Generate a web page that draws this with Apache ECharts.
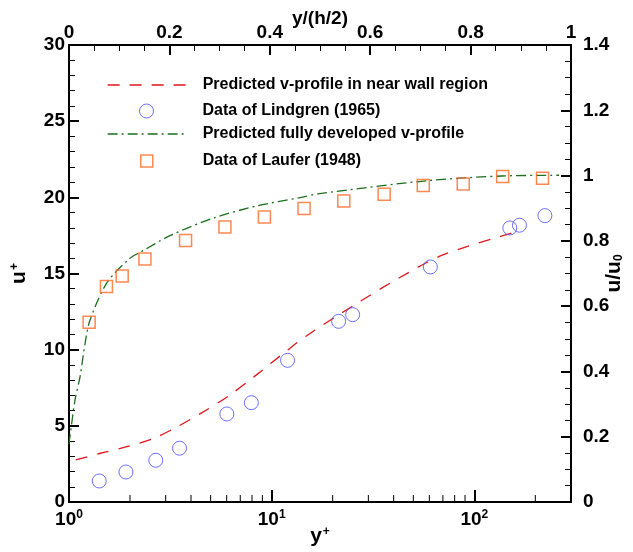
<!DOCTYPE html>
<html>
<head>
<meta charset="utf-8">
<script src="https://cdn.jsdelivr.net/npm/echarts@6/dist/echarts.min.js"></script>
<style>html,body{margin:0;padding:0;background:#fff}#c{width:633px;height:552px}</style>
</head>
<body>
<div id="c"></div>
<script>
// ---- data ----
var nearWallYp = [1.08, 1.43, 1.93, 2.62, 3.42, 4.47, 6.05, 8.2, 12.0, 15.0, 24.8, 42.3, 69.4, 137, 166];
var nearWallUp = [2.76, 3.2, 3.63, 4.18, 4.94, 5.82, 6.91, 8.23, 9.98, 10.95, 12.82, 14.69, 16.2, 17.47, 17.8];

var fullYp = [1.0, 1.011, 1.071, 1.134, 1.2, 1.27, 1.54, 2.0, 2.25, 3.17, 5.2, 8.54, 14.0, 17.3, 59.4, 137, 262];
var fullUp = [3.8, 4.3, 6.7, 8.23, 10.4, 11.95, 14.4, 16.0, 16.4, 17.5, 18.65, 19.45, 20.0, 20.25, 21.1, 21.4, 21.45];

var lindgrenYp = [1.41, 1.91, 2.68, 3.51, 6.01, 7.94, 11.98, 21.4, 25.1, 60.7, 149.7, 167, 223];
var lindgrenUp = [1.38, 1.97, 2.74, 3.53, 5.78, 6.52, 9.30, 11.86, 12.30, 15.43, 17.99, 18.17, 18.80];

var lauferYp = [1.257, 1.53, 1.83, 2.37, 3.76, 5.88, 9.21, 14.45, 22.7, 35.9, 56.0, 88.2, 138, 217];
var lauferUp = [11.8, 14.14, 14.84, 15.96, 17.16, 18.06, 18.71, 19.26, 19.76, 20.2, 20.77, 20.88, 21.36, 21.25];

var logMinorTicks = [2, 3, 4, 5, 6, 7, 8, 9, 20, 30, 40, 50, 60, 70, 80, 90, 200];

var names = [
  'Predicted v-profile in near wall region',
  'Data of Lindgren (1965)',
  'Predicted fully developed v-profile',
  'Data of Laufer (1948)'
];

function pairs(xs, ys) { return xs.map(function (x, i) { return [x, ys[i]]; }); }

var FONT = 'Liberation Sans, Arial, sans-serif';
var RED = '#e0161b', BLUE = '#4a4cff', GREEN = '#1d6e1d', ORANGE = '#ff6a26';

var tickLabel = { fontFamily: FONT, fontWeight: 'bold', fontSize: 19, color: '#000' };

function axisCommon(extra) {
  var base = {
    nameMoveOverlap: false,
    axisLine: { show: true, onZero: false, lineStyle: { color: '#000', width: 2 } },
    axisTick: { show: true, inside: true, length: 10, lineStyle: { color: '#000', width: 2 } },
    minorTick: { show: true, length: 6, lineStyle: { color: '#000', width: 1 } },
    splitLine: { show: false },
    minorSplitLine: { show: false },
    nameTextStyle: { fontFamily: FONT, fontWeight: 'bold', fontSize: 19, color: '#000' }
  };
  for (var k in extra) base[k] = extra[k];
  return base;
}

var chart = echarts.init(document.getElementById('c'), null, { renderer: 'canvas' });

var legendBase = {
  orient: 'vertical', padding: 0, selectedMode: false,
  textStyle: { fontFamily: FONT, fontWeight: 'bold', fontSize: 16, color: '#000' }
};
function mkLegend(name, left, top, w, h, padLeft, itemStyle, lineStyle) {
  var l = JSON.parse(JSON.stringify(legendBase));
  l.left = left; l.top = top; l.itemWidth = w; l.itemHeight = h;
  l.textStyle.padding = [0, 0, 0, padLeft];
  var d = { name: name };
  if (itemStyle) d.itemStyle = itemStyle;
  if (lineStyle) d.lineStyle = lineStyle;
  l.data = [d];
  return l;
}

var option = {
  animation: false,
  backgroundColor: '#fff',
  grid: { left: 69, right: 62, top: 45, bottom: 50, containLabel: false, outerBoundsMode: 'none' },
  legend: [
    mkLegend(names[0], 107, 77, 80, 2, 10, { color: 'rgba(0,0,0,0)', borderWidth: 0 }, { width: 1.3 }),
    mkLegend(names[1], 139, 103, 14, 14, 44, { color: 'rgba(0,0,0,0)', borderColor: BLUE, borderWidth: 1 }),
    mkLegend(names[2], 107, 126, 80, 2, 10, { color: 'rgba(0,0,0,0)', borderWidth: 0 }, { width: 1.3 }),
    mkLegend(names[3], 140, 153, 12, 12, 45, { color: 'rgba(0,0,0,0)', borderColor: ORANGE, borderWidth: 1.5 })
  ],
  xAxis: [
    axisCommon({
      type: 'log', logBase: 10, min: 1, max: 300, position: 'bottom',
      axisTick: { show: true, inside: true, length: 12, lineStyle: { color: '#000', width: 2 } },
      minorTick: { show: false },
      name: 'y{sup|+}', nameLocation: 'middle', nameGap: 24,
      nameTextStyle: {
        fontFamily: FONT, fontWeight: 'bold', fontSize: 21, color: '#000',
        rich: { sup: { fontFamily: FONT, fontWeight: 'bold', fontSize: 12, verticalAlign: 'top', lineHeight: 12, padding: [0, 0, 0, 1] } }
      },
      axisLabel: {
        margin: 7, showMaxLabel: false,
        formatter: function (v) {
          var e = Math.log10(v);
          if (Math.abs(e - Math.round(e)) > 1e-6) return '';
          return '{b|10}{sup|' + Math.round(e) + '}';
        },
        rich: {
          b: { fontFamily: FONT, fontWeight: 'bold', fontSize: 19, lineHeight: 22, color: '#000' },
          sup: { fontFamily: FONT, fontWeight: 'bold', fontSize: 12, lineHeight: 12, verticalAlign: 'top', color: '#000' }
        }
      }
    }),
    axisCommon({
      type: 'value', min: 0, max: 1, interval: 0.2, position: 'top',
      minorTick: { show: true, splitNumber: 4, length: 6, lineStyle: { color: '#000', width: 1 } },
      name: 'y/(h/2)', nameLocation: 'middle', nameGap: 17,
      axisLabel: Object.assign({ margin: 3 }, tickLabel)
    })
  ],
  yAxis: [
    axisCommon({
      type: 'value', min: 0, max: 30, interval: 5, position: 'left',
      minorTick: { show: true, splitNumber: 5, length: 6, lineStyle: { color: '#000', width: 1 } },
      name: 'u{sup|+}', nameLocation: 'middle', nameGap: 39, nameRotate: 90,
      nameTextStyle: {
        fontFamily: FONT, fontWeight: 'bold', fontSize: 21, color: '#000',
        rich: { sup: { fontFamily: FONT, fontWeight: 'bold', fontSize: 12, verticalAlign: 'top', lineHeight: 12, padding: [0, 0, 0, 1] } }
      },
      axisLabel: Object.assign({ margin: 4 }, tickLabel)
    }),
    axisCommon({
      type: 'value', min: 0, max: 1.4, interval: 0.2, position: 'right',
      minorTick: { show: true, splitNumber: 4, length: 6, lineStyle: { color: '#000', width: 1 } },
      name: 'u/u{sub|0}', nameLocation: 'middle', nameGap: 33, nameRotate: 90,
      nameTextStyle: {
        fontFamily: FONT, fontWeight: 'bold', fontSize: 21, color: '#000',
        rich: { sub: { fontFamily: FONT, fontWeight: 'bold', fontSize: 12, verticalAlign: 'bottom', lineHeight: 12, padding: [8, 0, 0, 0] } }
      },
      axisLabel: Object.assign({ margin: 12, formatter: function (v) { return String(Math.round(v * 10) / 10); } }, tickLabel)
    })
  ],
  series: [
    {
      name: names[0], type: 'line', xAxisIndex: 0, yAxisIndex: 0,
      data: pairs(nearWallYp, nearWallUp), smooth: 0.3, symbol: 'none',
      lineStyle: { color: RED, width: 1.3, type: [12, 10] }, itemStyle: { color: RED }, z: 3
    },
    {
      name: names[1], type: 'scatter', xAxisIndex: 0, yAxisIndex: 0,
      data: pairs(lindgrenYp, lindgrenUp), symbol: 'circle', symbolSize: 14,
      itemStyle: { color: 'rgba(0,0,0,0)', borderColor: BLUE, borderWidth: 1 }, z: 4
    },
    {
      name: names[2], type: 'line', xAxisIndex: 0, yAxisIndex: 0,
      data: pairs(fullYp, fullUp), smooth: 0.3, symbol: 'none',
      lineStyle: { color: GREEN, width: 1.3, type: [10, 4, 2, 4] }, itemStyle: { color: GREEN }, z: 3
    },
    {
      name: names[3], type: 'scatter', xAxisIndex: 0, yAxisIndex: 0,
      data: pairs(lauferYp, lauferUp), symbol: 'rect', symbolSize: 12,
      itemStyle: { color: 'rgba(0,0,0,0)', borderColor: ORANGE, borderWidth: 1.5 }, z: 4
    },
    {
      name: 'logMinorTicks', type: 'custom', xAxisIndex: 0, yAxisIndex: 0, clip: false, silent: true, z: 10,
      data: logMinorTicks.map(function (v) { return [v, 0]; }),
      renderItem: function (params, api) {
        var p = api.coord([api.value(0), 0]);
        return { type: 'line', shape: { x1: p[0], y1: p[1], x2: p[0], y2: p[1] - 7 }, style: { stroke: '#000', lineWidth: 1 } };
      }
    }
  ]
};
chart.setOption(option);
</script>
</body>
</html>
